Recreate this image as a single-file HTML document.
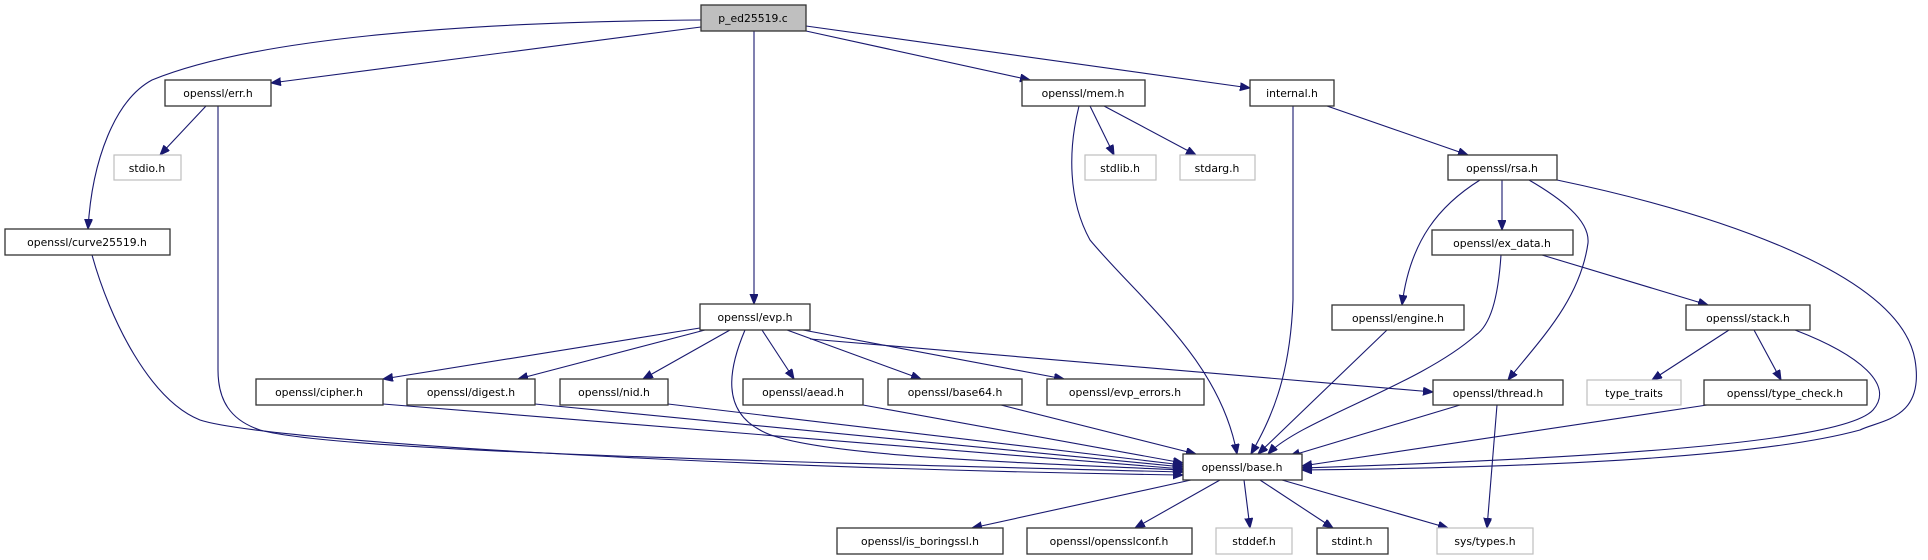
<!DOCTYPE html>
<html><head><meta charset="utf-8"><style>
html,body{margin:0;padding:0;background:#fff;}
svg{display:block;}
text{font-family:"DejaVu Sans","Liberation Sans",sans-serif;font-size:10.8px;fill:#000;text-anchor:middle;}
.n{fill:#fff;stroke:#333;stroke-width:1.3;}
.g{fill:#fff;stroke:#bfbfbf;stroke-width:1.2;}
.e{fill:none;stroke:#191970;stroke-width:1.1;}
</style></head><body>
<svg width="1928" height="560" viewBox="0 0 1928 560" xmlns="http://www.w3.org/2000/svg">
<defs>
<marker id="a" markerUnits="userSpaceOnUse" markerWidth="12" markerHeight="10" refX="10" refY="4" orient="auto">
<path d="M0,0 L10,4 L0,8 Z" fill="#191970" stroke="#191970"/>
</marker>
</defs>
<g marker-end="url(#a)">
<path class="e" d="M701,20 C450,22 250,40 152,80 C115,100 92,160 88,229"/>
<path class="e" d="M701,27 L271,83"/>
<path class="e" d="M754,31 L754,304"/>
<path class="e" d="M806,31 L1030,80"/>
<path class="e" d="M806,26 L1250,88"/>
<path class="e" d="M206,106 L160,155"/>
<path class="e" d="M218,106 L218,370 C218,400 230,420 260,430 C330,450 700,460 1183,472"/>
<path class="e" d="M92,255 C110,320 150,400 200,420 C260,440 700,468 1183,475"/>
<path class="e" d="M1090,106 L1114,155"/>
<path class="e" d="M1104,106 L1196,155"/>
<path class="e" d="M1079,106 C1068,150 1068,200 1090,240 C1140,300 1220,360 1237,454"/>
<path class="e" d="M1327,106 L1468,155"/>
<path class="e" d="M1293,106 L1293,300 C1290,380 1270,420 1251,454"/>
<path class="e" d="M1480,180 C1440,205 1410,240 1402,305"/>
<path class="e" d="M1502,180 L1502,230"/>
<path class="e" d="M1529,180 C1560,198 1590,220 1588,243 C1580,300 1540,340 1508,380"/>
<path class="e" d="M1557,180 C1700,210 1900,270 1915,360 C1925,420 1880,420 1860,430 C1750,460 1500,468 1302,470"/>
<path class="e" d="M1542,255 L1708,305"/>
<path class="e" d="M1501,255 C1498,300 1490,325 1476,335 C1420,385 1300,420 1268,454"/>
<path class="e" d="M1387,330 L1258,454"/>
<path class="e" d="M1729,330 L1652,380"/>
<path class="e" d="M1754,330 L1781,380"/>
<path class="e" d="M1795,330 C1860,355 1895,385 1873,410 C1850,435 1700,455 1302,468"/>
<path class="e" d="M1707,405 L1302,466"/>
<path class="e" d="M1460,405 L1290,456"/>
<path class="e" d="M1497,405 L1487,528"/>
<path class="e" d="M700,328 L383,379"/>
<path class="e" d="M705,330 L518,379"/>
<path class="e" d="M730,330 L643,379"/>
<path class="e" d="M762,330 L794,379"/>
<path class="e" d="M787,330 L921,379"/>
<path class="e" d="M803,330 L1064,379"/>
<path class="e" d="M810,339 L1433,392"/>
<path class="e" d="M745,330 C728,370 722,410 760,430 C800,455 1000,462 1183,470"/>
<path class="e" d="M383,404 L1183,469"/>
<path class="e" d="M535,404 L1183,467"/>
<path class="e" d="M668,404 L1183,465"/>
<path class="e" d="M863,405 L1183,463"/>
<path class="e" d="M1001,405 L1196,454"/>
<path class="e" d="M1191,480 L972,528"/>
<path class="e" d="M1220,480 L1135,528"/>
<path class="e" d="M1244,480 L1250,528"/>
<path class="e" d="M1260,480 L1333,528"/>
<path class="e" d="M1282,480 L1448,528"/>
</g>
<rect x="701" y="5" width="105" height="26" fill="#bfbfbf" stroke="#333" stroke-width="1.3"/><text x="753" y="22">p_ed25519.c</text>
<rect class="n" x="165" y="80" width="106" height="26"/><text x="218" y="97">openssl/err.h</text>
<rect class="g" x="114" y="155" width="67" height="25"/><text x="147" y="172">stdio.h</text>
<rect class="n" x="5" y="229" width="165" height="26"/><text x="87" y="246">openssl/curve25519.h</text>
<rect class="n" x="1022" y="80" width="123" height="26"/><text x="1083" y="97">openssl/mem.h</text>
<rect class="g" x="1085" y="155" width="71" height="25"/><text x="1120" y="172">stdlib.h</text>
<rect class="g" x="1180" y="155" width="75" height="25"/><text x="1217" y="172">stdarg.h</text>
<rect class="n" x="1250" y="80" width="84" height="26"/><text x="1292" y="97">internal.h</text>
<rect class="n" x="1448" y="155" width="109" height="25"/><text x="1502" y="172">openssl/rsa.h</text>
<rect class="n" x="1432" y="230" width="141" height="25"/><text x="1502" y="247">openssl/ex_data.h</text>
<rect class="n" x="1332" y="305" width="132" height="25"/><text x="1398" y="322">openssl/engine.h</text>
<rect class="n" x="1686" y="305" width="124" height="25"/><text x="1748" y="322">openssl/stack.h</text>
<rect class="n" x="700" y="304" width="110" height="26"/><text x="755" y="321">openssl/evp.h</text>
<rect class="n" x="256" y="379" width="127" height="26"/><text x="319" y="396">openssl/cipher.h</text>
<rect class="n" x="407" y="379" width="128" height="26"/><text x="471" y="396">openssl/digest.h</text>
<rect class="n" x="560" y="379" width="108" height="26"/><text x="614" y="396">openssl/nid.h</text>
<rect class="n" x="743" y="379" width="120" height="26"/><text x="803" y="396">openssl/aead.h</text>
<rect class="n" x="888" y="379" width="134" height="26"/><text x="955" y="396">openssl/base64.h</text>
<rect class="n" x="1047" y="379" width="157" height="26"/><text x="1125" y="396">openssl/evp_errors.h</text>
<rect class="n" x="1433" y="380" width="130" height="25"/><text x="1498" y="397">openssl/thread.h</text>
<rect class="g" x="1587" y="380" width="94" height="25"/><text x="1634" y="397">type_traits</text>
<rect class="n" x="1704" y="380" width="163" height="25"/><text x="1785" y="397">openssl/type_check.h</text>
<rect class="n" x="1183" y="454" width="119" height="26"/><text x="1242" y="471">openssl/base.h</text>
<rect class="n" x="837" y="528" width="166" height="26"/><text x="920" y="545">openssl/is_boringssl.h</text>
<rect class="n" x="1027" y="528" width="165" height="26"/><text x="1109" y="545">openssl/opensslconf.h</text>
<rect class="g" x="1216" y="528" width="76" height="26"/><text x="1254" y="545">stddef.h</text>
<rect class="n" x="1317" y="528" width="71" height="26"/><text x="1352" y="545">stdint.h</text>
<rect class="g" x="1437" y="528" width="96" height="26"/><text x="1485" y="545">sys/types.h</text>
</svg>
</body></html>
